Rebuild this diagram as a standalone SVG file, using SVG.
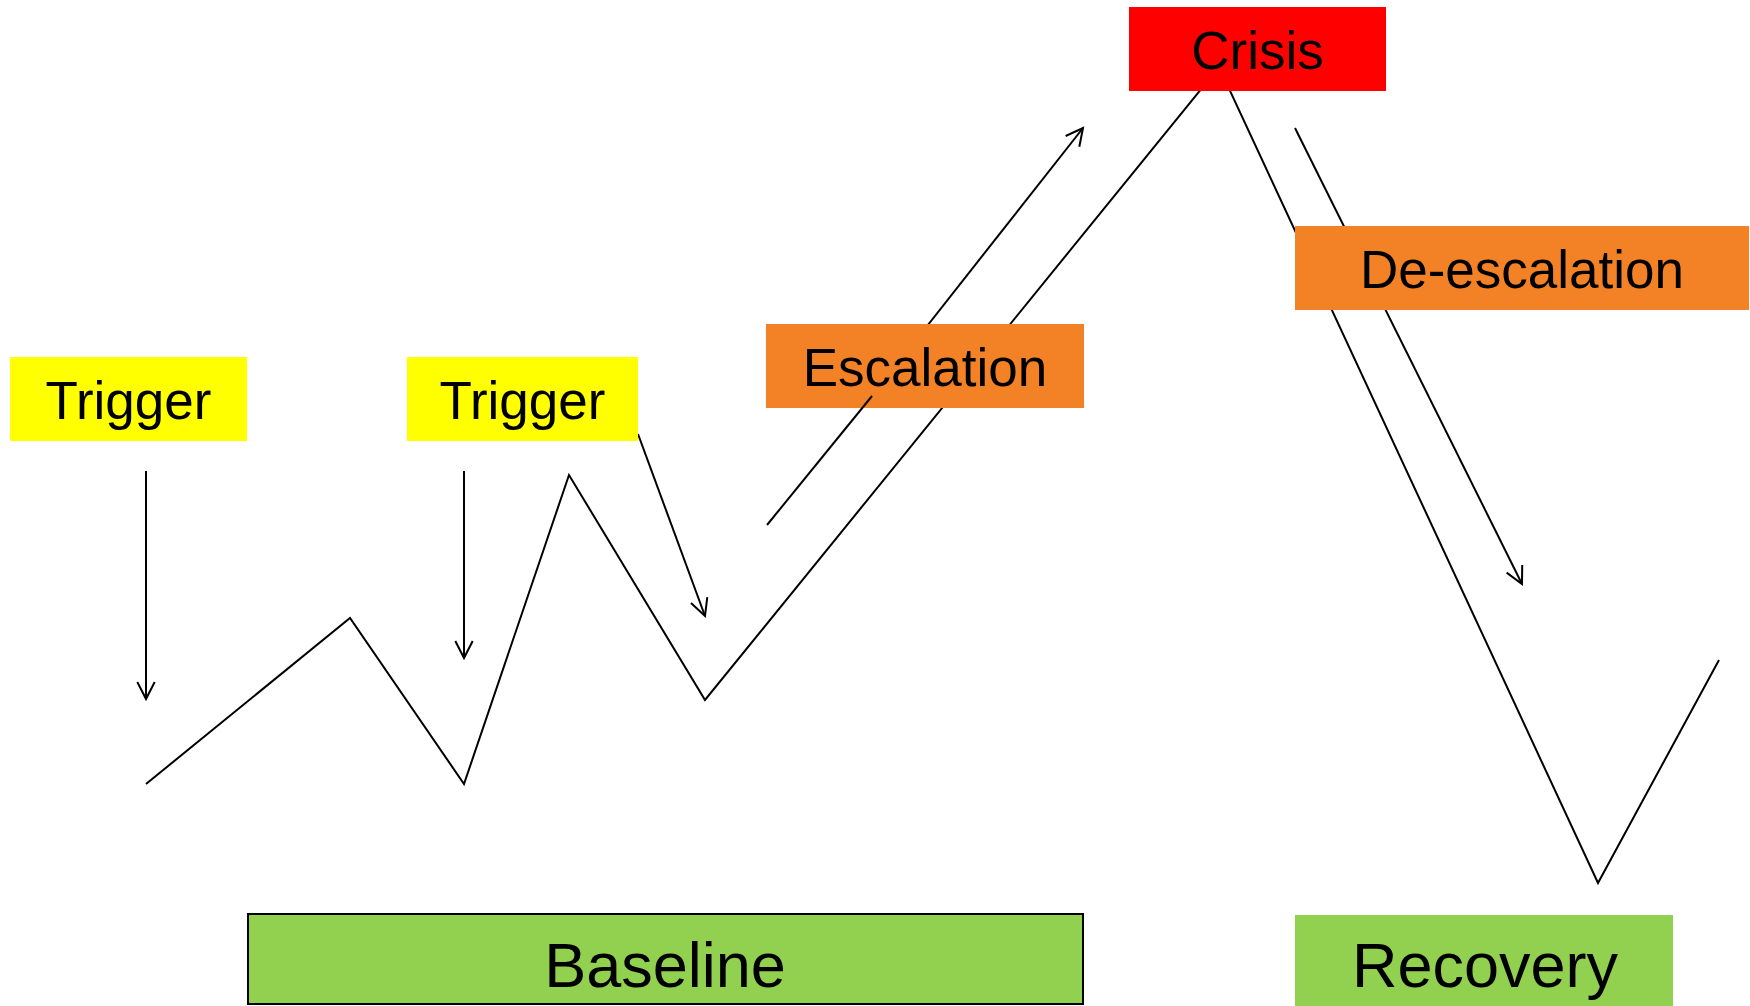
<svg xmlns="http://www.w3.org/2000/svg" width="1750" height="1006" viewBox="0 0 1750 1006">
  <style>
    .ln { fill: none; stroke: #000; stroke-width: 2; stroke-linejoin: miter; }
    .arr { fill: none; stroke: #000; stroke-width: 2; marker-end: url(#head); }
    .lbl { font-family: "Liberation Sans", Arial, sans-serif; font-size: 53px; fill: #000; text-anchor: middle; }
    .big { font-size: 63px; }
    .trigger { fill: #FFFF00; }
    .crisis { fill: #FF0000; }
    .esc { fill: #F38226; }
    .calm { fill: #92D050; }
  </style>
  <defs>
    <marker id="head" markerUnits="userSpaceOnUse" markerWidth="30" markerHeight="30" refX="0" refY="0" viewBox="-20 -15 30 30" orient="auto" overflow="visible">
      <path d="M -17,-8.7 L 0,0 L -17,8.7" fill="none" stroke="#000" stroke-width="2"/>
    </marker>
  </defs>

  <!-- Connectors: the state curve and the trend arrows (drawn beneath the labels) -->
  <g id="connectors">
    <polyline class="ln" points="146,784 350,618 464,784 569,475 705,700 1219,67 1598,883 1719,660"/>
    <line class="arr" x1="146" y1="471" x2="146" y2="699"/>
    <line class="arr" x1="464" y1="471" x2="464" y2="658"/>
    <line class="arr" x1="638" y1="434" x2="705" y2="616"/>
    <line class="arr" x1="872" y1="396" x2="1083" y2="128"/>
    <line class="arr" x1="1295" y1="128" x2="1522" y2="584"/>
  </g>

  <g id="trigger-1">
    <rect class="trigger" x="10" y="357" width="237" height="84"/>
    <text class="lbl" x="128.5" y="419">Trigger</text>
  </g>

  <g id="trigger-2">
    <rect class="trigger" x="407" y="357" width="231" height="84"/>
    <text class="lbl" x="522.5" y="419">Trigger</text>
  </g>

  <g id="crisis">
    <rect class="crisis" x="1129" y="7" width="257" height="84"/>
    <text class="lbl" x="1257.5" y="69">Crisis</text>
  </g>

  <g id="escalation">
    <rect class="esc" x="766" y="324" width="318" height="84"/>
    <text class="lbl" x="925" y="386">Escalation</text>
  </g>

  <g id="de-escalation">
    <rect class="esc" x="1295" y="226" width="454" height="84"/>
    <text class="lbl" x="1522" y="288">De-escalation</text>
  </g>

  <g id="baseline">
    <rect class="calm" x="248" y="914" width="835" height="90" stroke="#000" stroke-width="2"/>
    <text class="lbl big" x="665" y="987">Baseline</text>
  </g>

  <g id="recovery">
    <rect class="calm" x="1295" y="915" width="378" height="91"/>
    <text class="lbl big" x="1485" y="987">Recovery</text>
  </g>

  <!-- tail of the escalation arrow, which runs over the bottom edge of its label -->
  <g id="escalation-tail">
    <line class="ln" x1="767" y1="525" x2="872" y2="396"/>
  </g>
</svg>
